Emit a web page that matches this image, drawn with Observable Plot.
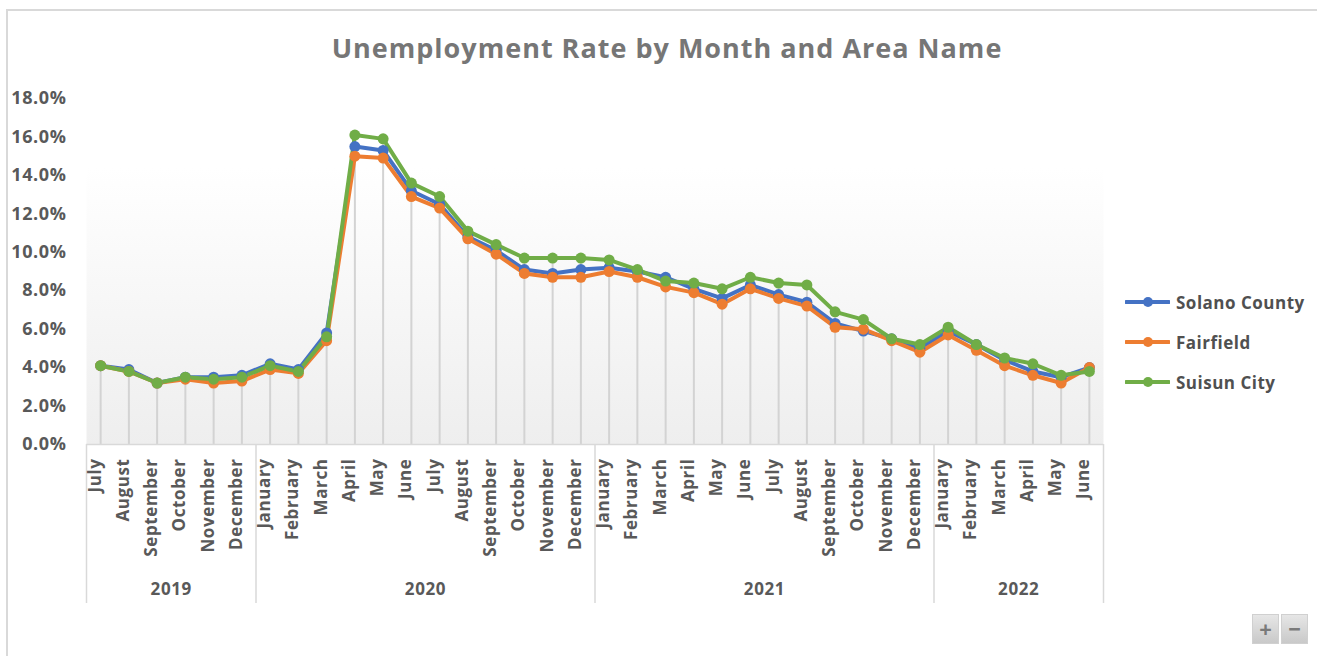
<!DOCTYPE html>
<html><head><meta charset="utf-8">
<script src="https://cdn.jsdelivr.net/npm/d3@7"></script>
<script src="https://cdn.jsdelivr.net/npm/@observablehq/plot@0.6"></script>
<style>
body{margin:0;background:#fff;font-family:"Open Sans",sans-serif;}
#wrap{position:relative;width:1317px;height:656px;overflow:hidden;background:#fff;}
#frame{position:absolute;left:6px;top:9px;width:1330px;height:680px;border-left:2px solid #d9d9d9;border-top:2px solid #d9d9d9;}
#chart{position:absolute;left:0;top:0;}
#title{position:absolute;left:0;width:1334px;top:29px;text-align:center;font-size:27px;font-weight:700;color:#767676;letter-spacing:1.0px;}
#legend{position:absolute;left:1125px;top:282px;}
.item{display:flex;align-items:center;height:40px;font-size:17px;font-weight:700;color:#505050;letter-spacing:0.5px;}
.item svg{margin-right:6px;}
.btn{position:absolute;top:614px;width:27px;height:30px;background:linear-gradient(#e6e6e6,#c9c9c9);border:1px solid #d0d0d0;box-sizing:border-box;color:#7a7a7a;font-weight:700;font-size:22px;line-height:27px;text-align:center;}
</style></head>
<body>
<div id="wrap">
  <div id="frame"></div>
  <div id="chart"></div>
  <div id="title">Unemployment Rate by Month and Area Name</div>
  <div id="legend"></div>
  <div class="btn" style="left:1252px">+</div>
  <div class="btn" style="left:1281px">−</div>
</div>
<script>
const months = ["July","August","September","October","November","December",
  "January","February","March","April","May","June","July","August","September","October","November","December",
  "January","February","March","April","May","June","July","August","September","October","November","December",
  "January","February","March","April","May","June"];
const years = [2019,2019,2019,2019,2019,2019,
  2020,2020,2020,2020,2020,2020,2020,2020,2020,2020,2020,2020,
  2021,2021,2021,2021,2021,2021,2021,2021,2021,2021,2021,2021,
  2022,2022,2022,2022,2022,2022];
const seriesNames = ["Solano County","Fairfield","Suisun City"];
const seriesColors = ["#4472C4","#ED7D31","#70AD47"];
const solano = [4.1,3.9,3.2,3.5,3.5,3.6, 4.2,3.9,5.8,15.5,15.3,13.2,12.5,10.8,10.1,9.1,8.9,9.1,
  9.2,9.0,8.7,8.1,7.6,8.3,7.8,7.4,6.3,5.9,5.5,5.0, 5.9,5.2,4.4,3.8,3.5,4.0];
const fairfield = [4.1,3.8,3.2,3.4,3.2,3.3, 3.9,3.7,5.4,15.0,14.9,12.9,12.3,10.7,9.9,8.9,8.7,8.7,
  9.0,8.7,8.2,7.9,7.3,8.1,7.6,7.2,6.1,6.0,5.4,4.8, 5.7,4.9,4.1,3.6,3.2,4.0];
const suisun = [4.1,3.8,3.2,3.5,3.4,3.5, 4.1,3.8,5.6,16.1,15.9,13.6,12.9,11.1,10.4,9.7,9.7,9.7,
  9.6,9.1,8.5,8.4,8.1,8.7,8.4,8.3,6.9,6.5,5.5,5.2, 6.1,5.2,4.5,4.2,3.6,3.8];
const yTicks = [0,2,4,6,8,10,12,14,16,18];

const seriesValues = [solano, fairfield, suisun];
const idx = months.map((_, i) => i);
const data = [];
seriesNames.forEach((s, k) => seriesValues[k].forEach((v, i) => data.push({series: s, i, v})));
const maxAt = idx.map(i => d3.max(seriesValues, a => a[i]));
const yearList = Array.from(new Set(years));
const yearInfo = yearList.map(y => {
  const ii = idx.filter(i => years[i] === y);
  return {year: y, first: ii[0], last: ii[ii.length - 1]};
});
const bounds = [yearInfo[0].first - 0.5, ...yearInfo.map(d => d.last + 0.5)];

const chart = Plot.plot({
  width: 1317, height: 656,
  marginLeft: 86, marginRight: 214, marginTop: 98, marginBottom: 212,
  style: {fontFamily: "Open Sans", color: "#595959", background: "transparent", letterSpacing: "0.6px"},
  x: {type: "linear", domain: [-0.5, months.length - 0.5], axis: null},
  y: {domain: [0, 18], axis: null},
  color: {domain: seriesNames, range: seriesColors},
  marks: [
    Plot.frame({fill: "url(#plotbg)", stroke: "none"}),
    Plot.ruleX(idx, {x: i => i, y1: 0, y2: i => maxAt[i], stroke: "#d3d3d3", strokeWidth: 2}),
    Plot.ruleY([0], {stroke: "#d9d9d9", strokeWidth: 1.5}),
    Plot.ruleX(bounds, {x: d => d, stroke: "#d9d9d9", strokeWidth: 1.5, insetTop: 346, insetBottom: -159}),
    Plot.line(data, {x: "i", y: "v", z: "series", stroke: "series", strokeWidth: 4, curve: "linear"}),
    Plot.dot(data, {x: "i", y: "v", fill: "series", r: 5.5}),
    Plot.axisY(yTicks, {label: null, tickSize: 0, tickPadding: 20, tickFormat: d => d.toFixed(1) + "%", fontSize: 18, fontWeight: "bold", fill: "#595959"}),
    Plot.text(idx, {x: i => i, text: i => months[i], frameAnchor: "bottom", rotate: -90, textAnchor: "end", dy: 14, fontSize: 17, fontWeight: "bold", fill: "#595959"}),
    Plot.text(yearInfo, {x: d => (d.first + d.last) / 2, text: d => String(d.year), frameAnchor: "bottom", dy: 150, fontSize: 17, fontWeight: "bold", fill: "#595959"})
  ]
});
const svg = d3.select(chart);
const defs = svg.insert("defs", ":first-child");
const g = defs.append("linearGradient").attr("id", "plotbg").attr("x1", 0).attr("y1", 0).attr("x2", 0).attr("y2", 1);
g.append("stop").attr("offset", "0.2").attr("stop-color", "#ffffff");
g.append("stop").attr("offset", "1").attr("stop-color", "#eeeeee");
document.getElementById("chart").appendChild(chart);

const legend = d3.select("#legend");
seriesNames.forEach((s, k) => {
  const it = legend.append("div").attr("class", "item");
  const sv = it.append("svg").attr("width", 45).attr("height", 12);
  sv.append("line").attr("x1", 1).attr("x2", 44).attr("y1", 6).attr("y2", 6).attr("stroke", seriesColors[k]).attr("stroke-width", 4).attr("stroke-linecap", "round");
  sv.append("circle").attr("cx", 23).attr("cy", 6).attr("r", 5).attr("fill", seriesColors[k]);
  it.append("span").text(s);
});
</script>
</body></html>
